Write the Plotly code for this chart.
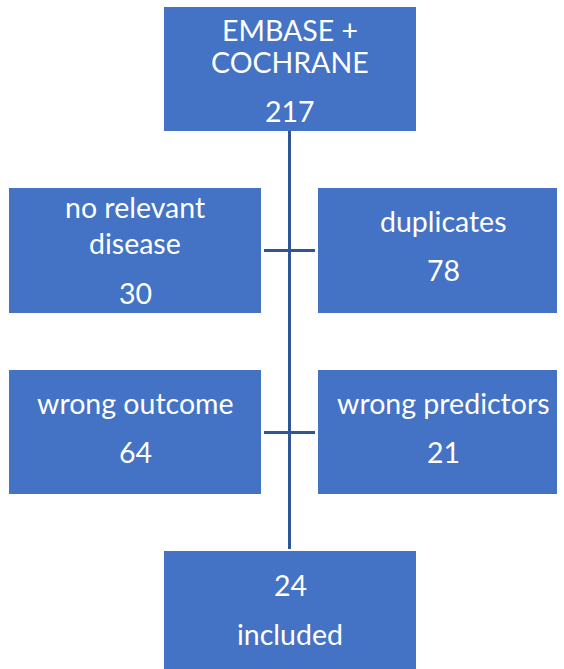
import plotly.graph_objects as go

# Data
box_names = ["source", "no_disease", "duplicates", "wrong_outcome", "wrong_predictors", "included"]
box_labels = [["EMBASE +", "COCHRANE"], ["no relevant", "disease"], ["duplicates"],
              ["wrong outcome"], ["wrong predictors"], ["included"]]
box_counts = [217, 30, 78, 64, 21, 24]

# Layout (pixel geometry)
W, H = 564, 669
boxes = {
    "source": (164, 7, 416, 131),
    "no_disease": (9, 188, 261, 313),
    "duplicates": (318, 188, 557, 313),
    "wrong_outcome": (9, 370, 261, 494),
    "wrong_predictors": (318, 370, 557, 494),
    "included": (164, 551, 416, 672),
}
# text x-centre and y-centres of text lines per box: (x, label lines..., count)
text_pos = {
    "source": (290, [30, 62], 111),
    "no_disease": (135, [207, 243], 293),
    "duplicates": (443, [221], 270),
    "wrong_outcome": (135, [403], 452),
    "wrong_predictors": (443, [403], 452),
    "included": (290, [634], 585),
}

FILL = "#4472C4"
LINE = "#2F5597"
FONT = dict(family="Lato, Open Sans, sans-serif", size=28.5, color="white")

fig = go.Figure()
shapes = []
annotations = []
for name, lines, cnt in zip(box_names, box_labels, box_counts):
    x0, y0, x1, y1 = boxes[name]
    shapes.append(dict(type="rect", xref="x", yref="y", x0=x0, y0=y0, x1=x1, y1=y1,
                       fillcolor=FILL, line=dict(width=0), layer="below"))
    cx, ly, cy = text_pos[name]
    for t, yy in zip(lines, ly):
        annotations.append(dict(x=cx, y=yy, xref="x", yref="y", text=t, showarrow=False,
                                font=FONT, xanchor="center", yanchor="middle"))
    annotations.append(dict(x=cx, y=cy, xref="x", yref="y", text=str(cnt), showarrow=False,
                            font=FONT, xanchor="center", yanchor="middle"))

# connector lines
shapes.append(dict(type="line", xref="x", yref="y", x0=289.5, y0=131, x1=289.5, y1=549,
                   line=dict(color=LINE, width=3)))
for yy in (250.5, 432.5):
    shapes.append(dict(type="line", xref="x", yref="y", x0=264, y0=yy, x1=315, y1=yy,
                       line=dict(color=LINE, width=3)))

fig.update_layout(
    width=W, height=H, margin=dict(l=0, r=0, t=0, b=0),
    paper_bgcolor="white", plot_bgcolor="white",
    xaxis=dict(range=[0, W], visible=False, fixedrange=True),
    yaxis=dict(range=[H, 0], visible=False, fixedrange=True),
    shapes=shapes, annotations=annotations, showlegend=False,
)
fig.write_html("out.html", config={"displayModeBar": False},
               post_script="document.body.style.margin='0';document.body.style.overflow='hidden';")
